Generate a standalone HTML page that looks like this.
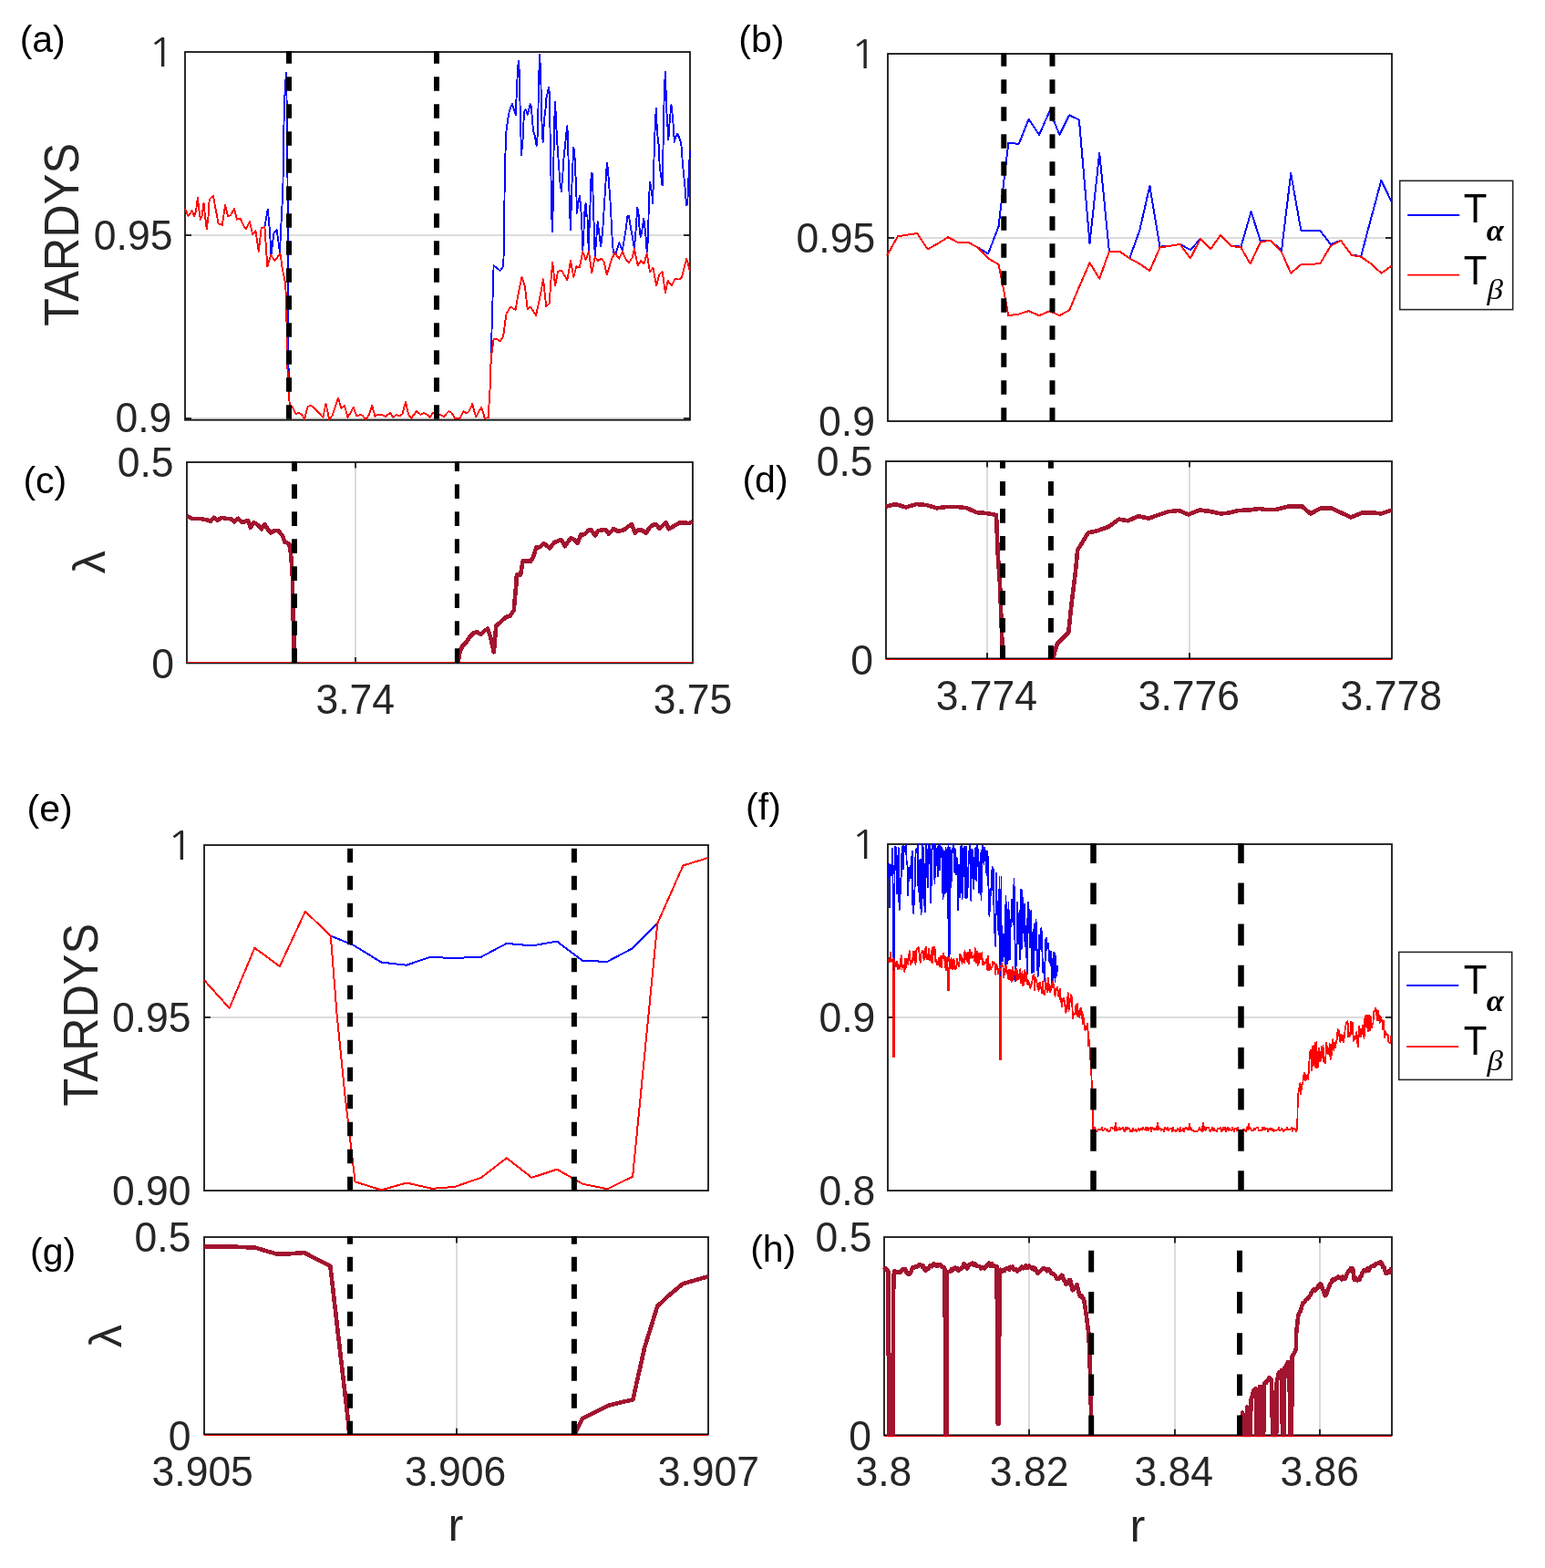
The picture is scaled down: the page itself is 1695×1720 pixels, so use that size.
<!DOCTYPE html>
<html><head><meta charset="utf-8"><title>figure</title>
<style>
html,body{margin:0;padding:0;background:#fff;}
svg{display:block;}
text{font-family:"Liberation Sans", Arial, Helvetica, sans-serif;}
</style></head>
<body>
<svg width="1695" height="1720" viewBox="0 0 1695 1720">
<rect width="1695" height="1720" fill="#fff"/>
<defs><clipPath id="cpa"><rect x="201" y="56" width="558" height="406.7"/></clipPath><clipPath id="cpb"><rect x="972" y="58" width="557" height="406"/></clipPath><clipPath id="cpc"><rect x="203" y="506" width="559" height="223.4"/></clipPath><clipPath id="cpd"><rect x="970" y="505" width="559" height="219.4"/></clipPath><clipPath id="cpe"><rect x="222" y="926" width="557" height="382"/></clipPath><clipPath id="cpf"><rect x="972" y="925" width="557" height="383"/></clipPath><clipPath id="cpg"><rect x="222" y="1356" width="557" height="219.3"/></clipPath><clipPath id="cph"><rect x="968" y="1356" width="561" height="220.3"/></clipPath></defs>
<line x1="203" y1="258" x2="757" y2="258" stroke="#dcdcdc" stroke-width="2"/>
<line x1="203" y1="459" x2="757" y2="459" stroke="#dcdcdc" stroke-width="2"/>
<line x1="974" y1="261" x2="1527" y2="261" stroke="#dcdcdc" stroke-width="2"/>
<line x1="390" y1="507" x2="390" y2="727.4" stroke="#dcdcdc" stroke-width="2"/>
<line x1="1083" y1="506" x2="1083" y2="722.4" stroke="#dcdcdc" stroke-width="2"/>
<line x1="1305" y1="506" x2="1305" y2="722.4" stroke="#dcdcdc" stroke-width="2"/>
<line x1="224" y1="1116" x2="777" y2="1116" stroke="#dcdcdc" stroke-width="2"/>
<line x1="974" y1="1116" x2="1527" y2="1116" stroke="#dcdcdc" stroke-width="2"/>
<line x1="501" y1="1357" x2="501" y2="1573.3" stroke="#dcdcdc" stroke-width="2"/>
<line x1="1129" y1="1357" x2="1129" y2="1574.3" stroke="#dcdcdc" stroke-width="2"/>
<line x1="1289" y1="1357" x2="1289" y2="1574.3" stroke="#dcdcdc" stroke-width="2"/>
<line x1="1448" y1="1357" x2="1448" y2="1574.3" stroke="#dcdcdc" stroke-width="2"/>
<rect x="203" y="57" width="554" height="403.7" fill="none" stroke="#151515" stroke-width="1.8"/>
<rect x="974" y="59" width="553" height="403" fill="none" stroke="#151515" stroke-width="1.8"/>
<rect x="205" y="507" width="555" height="220.4" fill="none" stroke="#151515" stroke-width="1.8"/>
<rect x="972" y="506" width="555" height="216.4" fill="none" stroke="#151515" stroke-width="1.8"/>
<rect x="224" y="927" width="553" height="379" fill="none" stroke="#151515" stroke-width="1.8"/>
<rect x="974" y="926" width="553" height="380" fill="none" stroke="#151515" stroke-width="1.8"/>
<rect x="224" y="1357" width="553" height="216.3" fill="none" stroke="#151515" stroke-width="1.8"/>
<rect x="970" y="1357" width="557" height="217.3" fill="none" stroke="#151515" stroke-width="1.8"/>
<line x1="203" y1="258" x2="210" y2="258" stroke="#151515" stroke-width="1.8"/><line x1="750" y1="258" x2="757" y2="258" stroke="#151515" stroke-width="1.8"/>
<line x1="203" y1="459" x2="210" y2="459" stroke="#151515" stroke-width="1.8"/><line x1="750" y1="459" x2="757" y2="459" stroke="#151515" stroke-width="1.8"/>
<line x1="974" y1="261" x2="981" y2="261" stroke="#151515" stroke-width="1.8"/><line x1="1520" y1="261" x2="1527" y2="261" stroke="#151515" stroke-width="1.8"/>
<line x1="390" y1="727.4" x2="390" y2="720.9" stroke="#151515" stroke-width="1.8"/><line x1="390" y1="507" x2="390" y2="513.5" stroke="#151515" stroke-width="1.8"/>
<line x1="1083" y1="722.4" x2="1083" y2="715.9" stroke="#151515" stroke-width="1.8"/><line x1="1083" y1="506" x2="1083" y2="512.5" stroke="#151515" stroke-width="1.8"/>
<line x1="1305" y1="722.4" x2="1305" y2="715.9" stroke="#151515" stroke-width="1.8"/><line x1="1305" y1="506" x2="1305" y2="512.5" stroke="#151515" stroke-width="1.8"/>
<line x1="224" y1="1116" x2="231" y2="1116" stroke="#151515" stroke-width="1.8"/><line x1="770" y1="1116" x2="777" y2="1116" stroke="#151515" stroke-width="1.8"/>
<line x1="974" y1="1116" x2="981" y2="1116" stroke="#151515" stroke-width="1.8"/><line x1="1520" y1="1116" x2="1527" y2="1116" stroke="#151515" stroke-width="1.8"/>
<line x1="501" y1="1573.3" x2="501" y2="1566.8" stroke="#151515" stroke-width="1.8"/><line x1="501" y1="1357" x2="501" y2="1363.5" stroke="#151515" stroke-width="1.8"/>
<line x1="1129" y1="1574.3" x2="1129" y2="1567.8" stroke="#151515" stroke-width="1.8"/><line x1="1129" y1="1357" x2="1129" y2="1363.5" stroke="#151515" stroke-width="1.8"/>
<line x1="1289" y1="1574.3" x2="1289" y2="1567.8" stroke="#151515" stroke-width="1.8"/><line x1="1289" y1="1357" x2="1289" y2="1363.5" stroke="#151515" stroke-width="1.8"/>
<line x1="1448" y1="1574.3" x2="1448" y2="1567.8" stroke="#151515" stroke-width="1.8"/><line x1="1448" y1="1357" x2="1448" y2="1363.5" stroke="#151515" stroke-width="1.8"/>
<g clip-path="url(#cpa)" shape-rendering="crispEdges"><polyline points="290.4,249 293.7,229.6 295.8,251 297.5,279.1 300.4,256 303.7,252.3 307,276.6 309,233.7 310.3,211.4 310.8,180 311.3,143 312.3,107 313.9,80 314.8,120 315.5,200 316,300 316.5,400 317.3,440" fill="none" stroke="#0000ff" stroke-width="1.9" stroke-linejoin="round" stroke-linecap="butt"/></g>
<g clip-path="url(#cpa)" shape-rendering="crispEdges"><polyline points="537.6,420 538.7,395.8 539.9,347 541,313.3 541.6,291.2 548.6,297 552.1,292.3 552.7,278.4 553.3,234.9 553.8,192.4 555,149.4 555.8,140.7 557,133.1 557.9,126.2 559.1,120.9 560.2,118 562,114 563.7,119.8 565.8,126.2 566.4,110.5 567.2,92.4 568,75.6 569,66.9 570.1,83.7 570.5,113.4 571.3,144.2 572.1,169.8 573.6,152.3 574.2,137.2 575.3,122.1 576.5,119.8 578.8,125.6 581.7,114 582.9,117.4 584.1,133.7 585.2,144.2 587,150 588.7,159.9 589.9,146.5 590.5,117.4 591,87.2 592.2,59.9 593.4,90.1 594,118.6 594.9,146.5 595.7,155.8 596.9,132.6 598.6,118.6 599.2,108.1 600.3,103.5 602.1,95.9 603,104.7 603.5,143 604.4,189.5 605.3,237.2 606,254 606.7,226.7 607.3,183.7 607.9,141.9 609.1,111.6 610.2,137.2 611.4,158.1 612.8,177.9 614.3,198.8 615.8,209.9 617.2,194.2 618.6,172.1 619.8,161.6 620.9,150 622.4,137.8 623.4,168.6 624.2,202.3 625.3,236 626,252.2 627.1,210.5 628.3,183.7 629.1,161.6 630.2,165.1 631.2,187.2 632.3,209.3 632.9,233.7 634.1,224.4 635.8,215.1 637,224.4 638.1,241.9 639.3,274.9 640.6,250 641.7,226.7 642.9,223.3 643.2,237.1 644.4,236 645.7,274.6 647,238.4 647.9,212.8 648.7,189.5 649.9,190.7 650.7,218.6 651.6,245.3 652.7,281 654.2,263.3 655.7,243 657,253.4 659.1,270.4 661.2,253.4 662.7,229.1 663.8,211.6 665,191.9 665.8,179.1 667,184.9 667.9,200 669.1,214 670,229.1 670.8,245.3 671.5,259 672.9,277.4 676.1,276.7 679.3,266.1 682.8,274.6 685.3,259.7 687.1,249.1 688.3,237.2 689.6,237.8 690,237.2 692,250.5 693.8,259.7 695.9,272.5 697.3,256.9 698.1,243.5 699.3,227.9 700.5,233.7 700.9,244.2 702.7,259.7 704.1,254.8 705.1,247 706.3,239.5 707.4,250 708,251.9 709.7,276.7 711.2,259.7 711.5,237.8 712.1,214 713.3,200 715,210.5 716.2,223.3 717,190.7 717.9,160.5 719.1,129.1 720,118.6 720.8,143 722.6,158.7 723.7,182.6 725.5,195.3 726.6,203.5 727.4,167.4 728.1,130.2 729,93 730.1,78.5 730.9,115.1 732.4,137.2 733.4,153.5 734.2,138.4 735.3,126.7 736.5,115.1 737.7,126.7 738.8,138.4 739.8,155.8 741.2,150 743.3,146.5 745.2,151.2 747,155.8 748.1,166.3 748.7,177.9 749.9,189.5 751,200 751.9,209.3 753,225.6 754.2,223.3 755.1,205.8 755.7,188.4 757,165" fill="none" stroke="#0000ff" stroke-width="1.9" stroke-linejoin="round" stroke-linecap="butt"/></g>
<g clip-path="url(#cpa)" shape-rendering="crispEdges"><polyline points="202.9,229.1 206.6,237 210.7,231.2 213.2,237 214.9,232 216.9,216.8 218.2,228.7 219.8,240.7 221.5,237 223.5,222.9 225.2,238.6 226.8,251 228.5,237.8 229.7,218.8 233.9,214.7 239.6,245.3 243.8,246.9 247.1,225 250,237 252.9,236.2 257,229.1 259.9,240.7 263.6,239.5 267.7,248.6 270.2,251 273.9,242.8 277.2,257.6 280.5,253.5 283.8,275.8 286.7,250.2 290.4,249 293.3,292.3 297.1,279.9 301.6,286.1 307.4,277.9 309.9,295.6 313,310 314.1,330 315.2,400 316.7,430 317.8,443.8 320.9,446.9 324.6,454.2 328.2,452.7 331.4,455.3 334,460 337.7,445.9 341.3,444.8 347.1,450 354.4,457.9 357.5,442.7 361.2,460 364.9,455.3 371.1,436.4 374.3,448 377.9,444.8 381.6,457.9 387.9,446.9 391,455.8 396.2,455.3 397.8,455.9 401.1,460.1 404.4,455.9 408.2,445 411.5,456.8 413.9,454.9 419.1,454.9 422.9,456.8 428,453 431.4,457.8 434.7,454.9 438,456.4 441.3,454.5 445,440.8 447.9,454 451.2,458.7 456.9,451.2 461.6,454.9 464.9,453 468.2,454.5 471.5,457.8 474.8,453 479,453.5 483.3,455.4 487.1,456.8 492.3,451.2 495.6,453 498.9,458.7 504.5,458.7 508.3,451.2 512.1,453.5 514.9,450.7 518.2,443.1 522,457.3 528.1,446.9 531.9,458.7 535.7,458.2 536.6,441.7 537.6,425.7 537.6,409.8 539.3,388.8 541.6,372 545.1,372 548.6,374.3 552.1,369.1 554.4,351.6 555.6,344.1 560.2,336.5 565.5,340 568.4,323.7 572.4,304 575.9,314.4 578.8,339.4 581.7,336.5 588.1,345.8 592.8,323.7 596,306.3 599.2,335.9 602.7,333 604.4,307.4 606.2,287.7 609.1,313.3 612,298.1 616,296.4 622.4,307.4 625.9,285.9 629.4,304 632.3,292.3 635.8,293.5 639.3,276 642.5,285.2 646,276 649.2,299.4 652.7,281.7 655.9,285.9 659.8,283.8 662.7,287.3 665.8,301.5 671.2,283.8 674.7,277.4 679.3,283.8 682.8,276 686.7,284.5 689.9,288.1 693.8,282.4 695.9,273.2 699.8,291.6 703,285.9 706.5,289.5 709.7,278.1 712.9,298 716.5,293.7 720,313.5 723.5,300.8 726.7,298 729.9,321.3 732.7,307.9 737,313.5 740.5,306.1 744.8,306.5 747.6,305 753.3,283.8 757,297.5" fill="none" stroke="#ff0000" stroke-width="1.9" stroke-linejoin="round" stroke-linecap="butt"/></g>
<g clip-path="url(#cpb)" shape-rendering="crispEdges"><polyline points="973.3,280 984.9,259.4 994.8,257.7 1006.3,256.1 1017.9,273.4 1029.5,266.8 1040.2,260.2 1050.9,266 1062.5,266 1073.2,271.8 1084,278.4 1095.5,248.7 1101.3,199.1 1106.3,157 1117.8,157.8 1128.6,130.6 1140.1,147.9 1151.7,121.5 1162.4,147.9 1173.2,126.4 1183.9,131.4 1195.5,266.8 1206.2,167.7 1216.9,275.9 1228.5,275.9 1239.2,283.4 1250.3,252.7 1261.4,203.9 1272.5,270.6 1282.8,269.8 1294.7,268 1305.9,274 1317,262.1 1328.1,273.2 1339.2,257.8 1350.4,269.8 1361.5,270.6 1372.6,232.1 1382.9,264.6 1394,263.8 1406,274.9 1416.2,190.2 1427.3,252.7 1438.5,252.7 1448.7,253.5 1459.8,268 1471,263.8 1482.9,280 1493.2,280.9 1504.3,239 1515.4,197.9 1527,222" fill="none" stroke="#0000ff" stroke-width="2.0" stroke-linejoin="round" stroke-linecap="butt"/></g>
<g clip-path="url(#cpb)" shape-rendering="crispEdges"><polyline points="973.3,280 984.9,259.4 994.8,257.7 1006.3,256.1 1017.9,273.4 1029.5,266.8 1040.2,260.2 1050.9,266 1062.5,266 1073.2,271.8 1084,283.4 1095.5,290 1100.5,314.7 1106.3,346.1 1117.8,344.5 1128.6,341.2 1140.1,346.1 1151.7,341.2 1162.4,346.1 1173.2,340.3 1183.9,314.7 1195.5,288.3 1206.2,305.6 1216.9,275.9 1228.5,275.9 1239.2,283.4 1250.3,289.4 1261.4,297.1 1272.5,271.5 1282.8,269.8 1294.7,268 1305.9,283.4 1317,262.1 1328.1,273.2 1339.2,257.8 1350.4,269.8 1361.5,271.5 1371.7,289.4 1382.9,265.5 1394,263.8 1406,276.6 1416.2,299.7 1427.3,290.3 1438.5,290.3 1448.7,288.6 1459.8,269.8 1471,263.8 1482.9,280 1493.2,281.7 1504.3,289.4 1515.4,299.7 1527,291.5" fill="none" stroke="#ff0000" stroke-width="2.0" stroke-linejoin="round" stroke-linecap="butt"/></g>
<g clip-path="url(#cpc)" shape-rendering="crispEdges"><polyline points="205.2,566.2 210.5,568.8 218.8,568.8 227.2,570.4 230.9,572 234.5,567.8 238.7,570.9 242.9,567.8 248.1,568.8 253.9,569.4 257,572.5 261.2,568.8 265.9,573 272.2,570.9 274.8,578.8 278.5,573 283.2,576.2 286.8,580.3 290.5,575.1 294.2,581.4 297.3,584.5 301.5,581.9 305.7,582.4 309.9,587.7 312.5,594.5 317.2,596.6 318.8,605.5 319.8,617 320.9,633.7 321.2,654.6 321.6,675.6 322.4,696.5 322.6,712.2 322.9,726.5" fill="none" stroke="#a2142f" stroke-width="4.6" stroke-linejoin="round" stroke-linecap="butt"/></g>
<g clip-path="url(#cpc)" shape-rendering="crispEdges"><polyline points="502.6,726.5 504.6,714.3 507.8,708 512,704.3 515.1,698.6 520.3,693.9 523.5,693.4 527.7,696 531.9,691.8 535,689.7 538.1,698.6 541.8,715.3 544.4,686 548.6,682.9 554.9,677.1 559.6,675.6 563.8,669.3 565.3,651.5 566.4,641 566.9,630.6 571.1,630.6 573.7,615.4 576.8,615.4 582.1,615.9 585.2,610.7 588.4,600.2 592,600.2 596.7,596 603,601.3 608.2,595 615.6,591.9 619.7,599.2 626,590.5 628.6,590.9 633.7,595.6 637.5,586.2 641.4,586.2 645.7,581.5 648.2,581.1 652.9,587.5 655.9,582.4 661.9,581.1 664.5,581.1 667.9,585.8 673,580.2 678.2,582.8 685,581.1 688.4,578.1 693.1,575.1 696.6,584.5 700,581.5 703.8,581.1 708.5,584.9 713.2,578.1 717.5,575.1 720.1,575.5 723.5,579.8 730.4,573.4 733.8,580.2 739.8,576.8 745.7,573.4 750.9,573.4 756,574.2 760,571.7" fill="none" stroke="#a2142f" stroke-width="4.6" stroke-linejoin="round" stroke-linecap="butt"/></g>
<g clip-path="url(#cpc)" shape-rendering="crispEdges"><polyline points="205,726.6 760,726.6" fill="none" stroke="#ff0000" stroke-width="1.4" stroke-linejoin="round" stroke-linecap="butt"/></g>
<g clip-path="url(#cpd)" shape-rendering="crispEdges"><polyline points="972,555.6 982.3,553.1 993.9,556.4 1005.5,553.1 1016.2,554 1027.8,557.3 1039.3,555.9 1050.1,555.9 1060.8,557.3 1071.5,562.2 1082.3,563 1093,565 1094.7,607.6 1097.1,642.3 1098.8,688.6 1099.6,708.4 1100.1,722.5" fill="none" stroke="#a2142f" stroke-width="4.6" stroke-linejoin="round" stroke-linecap="butt"/></g>
<g clip-path="url(#cpd)" shape-rendering="crispEdges"><polyline points="1155,722.5 1159.9,705.9 1172.3,693.5 1175.6,662.1 1179.7,629.1 1182.2,603.5 1193.8,584.5 1204.5,582 1216.1,577.9 1227.6,569.6 1237.5,571.3 1248.9,566.1 1260.2,568.7 1269.8,565.2 1282,561.2 1293.3,560 1303.7,564.4 1315.9,559.5 1327.2,560.9 1339.4,563.5 1348.1,562.6 1358.6,560 1370.7,559.5 1382.1,557.9 1388.2,559.1 1398.6,559.1 1414.3,555.3 1428.2,555.3 1437.7,563.5 1449.1,557.4 1460.4,557.4 1482.1,567.5 1494.3,562.6 1506.5,562.3 1515.2,563.5 1527,559.5" fill="none" stroke="#a2142f" stroke-width="4.6" stroke-linejoin="round" stroke-linecap="butt"/></g>
<g clip-path="url(#cpd)" shape-rendering="crispEdges"><polyline points="972,723.4 1527,723.4" fill="none" stroke="#ff0000" stroke-width="1.4" stroke-linejoin="round" stroke-linecap="butt"/></g>
<g clip-path="url(#cpe)" shape-rendering="crispEdges"><polyline points="362.8,1026.6 387.8,1036.8 418.4,1055.6 446,1058.7 471.6,1049.9 498.4,1051 527.9,1049.7 555.8,1034.9 583.4,1037.4 611.1,1032.7 639,1053.8 666.2,1054.9 694.1,1040.2 721.3,1012.9" fill="none" stroke="#0000ff" stroke-width="2.0" stroke-linejoin="round" stroke-linecap="butt"/></g>
<g clip-path="url(#cpe)" shape-rendering="crispEdges"><polyline points="224.1,1075.3 251.7,1105.9 279.4,1039.7 306.8,1060.1 334.9,999.8 362.8,1026.6 369.6,1112.7 378.7,1203.4 389.6,1296.3 418.4,1305.4 446,1297.5 473.9,1303.8 498.4,1302 527.9,1291.8 555.8,1270.3 583.4,1291.8 611.1,1282.7 639,1298.6 666.2,1304.3 694.1,1290.7 721.3,1012.9 749.4,949.5 777.2,940.9" fill="none" stroke="#ff0000" stroke-width="2.0" stroke-linejoin="round" stroke-linecap="butt"/></g>
<g clip-path="url(#cpf)" shape-rendering="crispEdges"><polyline points="974.5,945.71 975.25,955.27 976,995.4 976.75,948.4 977.5,952.66 978.25,960.68 979,930.47 979.75,953.59 979.5,964.47 980.2,1092 980.8,1092 981.5,964.47 981.25,981 982,929.18 982.75,939.22 983.5,930.29 984.25,980.51 985,968.97 985.75,930.14 986.5,998 987.25,996.04 988,964.88 988.75,961.4 989.5,931.93 990.25,927.99 991,953.69 991.75,928.1 992.5,932.13 993.25,934.27 994,926.67 994.75,947.73 995.5,945.79 996.25,982.12 997,951.4 997.75,961.7 998.5,949.45 999.25,963.47 1000,945.74 1000.75,933.91 1001.5,1001.21 1002.25,1001.71 1003,983.79 1003.75,969.88 1004.5,936.7 1005.25,931.72 1006,935.26 1006.75,925.18 1007.5,978.54 1008.25,943.48 1009,989.12 1009.75,942.74 1010.5,1003.6 1011.25,988.53 1012,924 1012.75,930.73 1013.5,993.47 1014.25,947.79 1015,1000.05 1015.75,941.68 1016.5,925.16 1017.25,959.82 1018,973.57 1018.75,932.96 1019.5,925.45 1020.25,936.16 1021,990.02 1021.75,968.46 1022.5,926.24 1023.25,931.2 1024,925.71 1024.75,924.73 1025.5,969.56 1026.25,928.08 1027,949.26 1027.75,941.47 1028.5,928.41 1029.25,961.48 1030,926.36 1030.75,954.52 1031.5,926 1032.25,939.83 1033,929.38 1033.75,931.96 1034.5,986.48 1035.25,970.68 1036,933.98 1036.75,979.71 1037.5,929.67 1038.25,939.62 1039,978.42 1039.75,958.8 1040.5,925.81 1040.25,995.02 1040.95,1053 1041.55,1053 1042.25,995.02 1042,930.16 1042.75,932.45 1043.5,973.31 1044.25,936.7 1045,934.86 1045.75,925.18 1046.5,925.65 1047.25,956.98 1048,932.22 1048.75,959.34 1049.5,940.52 1050.25,946.73 1051,998.37 1051.75,948.52 1052.5,955.83 1053.25,984.53 1054,928.95 1054.75,927.71 1055.5,986.39 1056.25,975.92 1057,931.65 1057.75,928.86 1058.5,966.1 1059.25,984.84 1060,928.89 1060.75,985.05 1061.5,978.45 1062.25,953.92 1063,941.11 1063.75,926.28 1064.5,924.97 1065.25,987.79 1066,931.58 1066.75,963.36 1067.5,932.68 1068.25,974.7 1069,954.86 1069.75,934.85 1070.5,929.6 1071.25,965.88 1072,926.54 1072.75,932.16 1073.5,952.92 1074.25,979.23 1075,957.64 1075.75,935.5 1076.5,987.53 1077.25,932.84 1078,927.9 1078.75,936.89 1079.5,948.13 1080.25,929.95 1081,934.04 1081.75,944.58 1082.5,959.97 1083.25,933.77 1084,945.69 1084.75,992.45 1085.5,1005.23 1086.25,975.27 1087,982.07 1087.75,976.03 1088.5,951.31 1089.25,951.9 1090,955.12 1090.75,1023.28 1091.5,1002.8 1092.25,1037.78 1093,957.33 1093.75,1003.15 1094.5,988.57 1095.25,1020.01 1096,976.15 1096.75,1068.46 1096.5,961.88 1097.2,1075 1097.8,1075 1098.5,961.88 1098.25,1002.28 1099,1028.47 1099.75,1054.53 1100.5,1029.2 1101.25,1024.66 1102,1038.48 1102.75,1058.73 1103.5,982.76 1104.25,1023.37 1105,1057.61 1105.75,1052.79 1106.5,990.01 1107.25,1040.04 1108,1052.06 1108.75,1008.79 1109.5,1015.9 1110.25,986.6 1111,1010.38 1111.75,1014 1112.5,964.03 1113.25,1018.46 1114,1076.47 1114.75,1056.45 1115.5,1032.35 1116.25,989.85 1117,1034.92 1117.75,1014.55 1118.5,999.32 1119.25,1052.53 1120,975.5 1120.75,1040.84 1121.5,977.32 1122.25,1023.33 1123,1011.15 1123.75,991.44 1124.5,1037.93 1125.25,1016.32 1126,1029.4 1126.75,1068.53 1127.5,999.05 1128.25,989.94 1129,1004.04 1129.75,1039.33 1130.5,999.99 1131.25,999.38 1132,1067.62 1132.75,1039.51 1133.5,1020.02 1134.25,1066.41 1135,1013.37 1135.75,1042.51 1136.5,1008.81 1137.25,1024.21 1138,1058.69 1138.75,1070.74 1139.5,1067.38 1140.25,1025.71 1141,1041.03 1141.75,1024.2 1142.5,1017.72 1143.25,1037.57 1144,1065.55 1144.75,1067.03 1145.5,1056.01 1146.25,1076.85 1147,1031.38 1147.75,1028.77 1148.5,1042.31 1149.25,1035.27 1150,1034.41 1150.75,1044.02 1151.5,1056.55 1152.25,1050.48 1153,1044.08 1153.75,1072.13 1154.5,1082 1155.25,1053.6 1156,1044.27 1156.75,1045.49 1157.5,1076.81 1158.25,1048.97 1159,1070.05 1159.75,1065.4 1160.5,1058.6" fill="none" stroke="#0000ff" stroke-width="1.8" stroke-linejoin="round" stroke-linecap="butt"/></g>
<g clip-path="url(#cpf)" shape-rendering="crispEdges"><polyline points="974.5,1052.3 975.25,1054.43 976,1055.44 976.75,1044.73 977.5,1054.07 978.25,1052.62 979,1055.59 979.75,1050.53 979.5,1052.88 980.2,1159 980.8,1159 981.5,1052.88 981.25,1057.9 982,1056.05 982.75,1060.51 983.5,1054.63 984.25,1054.48 985,1063.4 985.75,1058.2 986.5,1059.23 987.25,1062.93 988,1055.09 988.75,1048.01 989.5,1063.17 990.25,1058.45 991,1059.76 991.75,1058.63 992.5,1066.56 993.25,1051.96 994,1061.08 994.75,1051.45 995.5,1056.04 996.25,1057.89 997,1049.17 997.75,1043.23 998.5,1052.46 999.25,1058.22 1000,1054.77 1000.75,1050.89 1001.5,1055.42 1002.25,1043.79 1003,1043.46 1003.75,1046.72 1004.5,1058.31 1005.25,1043.11 1006,1040.92 1006.75,1040.31 1007.5,1038.66 1008.25,1043.96 1009,1050.59 1009.75,1055.99 1010.5,1044.49 1011.25,1045.19 1012,1043.2 1012.75,1043.4 1013.5,1053.45 1014.25,1048.27 1015,1041.93 1015.75,1038.64 1016.5,1052.34 1017.25,1050.49 1018,1052.61 1018.75,1040.77 1019.5,1046.52 1020.25,1053.58 1021,1047.72 1021.75,1054.83 1022.5,1040.22 1023.25,1056.14 1024,1038.68 1024.75,1046.01 1025.5,1038.66 1026.25,1054.39 1027,1052.34 1027.75,1058.36 1028.5,1055.38 1029.25,1058.61 1030,1050.77 1030.75,1060.22 1031.5,1055.96 1032.25,1048.57 1033,1061.3 1033.75,1050.26 1034.5,1047.29 1035.25,1045.64 1036,1053.56 1036.75,1049.07 1037.5,1063.27 1038.25,1064.04 1039,1051.13 1039.75,1049.67 1039.5,1057.38 1040.2,1086 1040.8,1086 1041.5,1057.38 1041.25,1050.51 1042,1057.22 1042.75,1062.15 1043.5,1051.16 1044.25,1054.18 1045,1063.52 1045.75,1054.15 1046.5,1051.81 1047.25,1063.02 1048,1061.25 1048.75,1062.87 1049.5,1058.24 1050.25,1051.96 1051,1057.67 1051.75,1060.15 1052.5,1055.68 1053.25,1046.96 1054,1047.82 1054.75,1049.81 1055.5,1056.63 1056.25,1051.99 1057,1051.46 1057.75,1056.3 1058.5,1042.47 1059.25,1051.78 1060,1045.99 1060.75,1050.15 1061.5,1055.29 1062.25,1044.58 1063,1057.7 1063.75,1041.47 1064.5,1050.62 1065.25,1050.32 1066,1044.51 1066.75,1050.85 1067.5,1049.18 1068.25,1048.83 1069,1054.22 1069.75,1040.08 1070.5,1047.79 1071.25,1056.34 1072,1043.84 1072.75,1058.72 1073.5,1045.82 1074.25,1055.75 1075,1045.96 1075.75,1051.86 1076.5,1051.7 1077.25,1045.26 1078,1057.99 1078.75,1053.98 1079.5,1058.53 1080.25,1055.88 1081,1056.51 1081.75,1056.21 1082.5,1052.06 1083.25,1064.02 1084,1048.66 1084.75,1064.07 1085.5,1064.07 1086.25,1057.46 1087,1062.95 1087.75,1061.3 1088.5,1060.32 1089.25,1054.92 1090,1055.75 1090.75,1056.77 1091.5,1056.38 1092.25,1068.84 1093,1058.05 1093.75,1059.37 1094.5,1060.44 1095.25,1068.28 1096,1062.49 1096.75,1064.39 1096.5,1059.29 1097.2,1162 1097.8,1162 1098.5,1059.29 1098.25,1060.18 1099,1057.08 1099.75,1059.97 1100.5,1061.2 1101.25,1072.59 1102,1066.25 1102.75,1059.17 1103.5,1066.03 1104.25,1059.95 1105,1068.47 1105.75,1066.45 1106.5,1074.35 1107.25,1063.64 1108,1074.69 1108.75,1063.99 1109.5,1077.54 1110.25,1071.47 1111,1060.97 1111.75,1074.88 1112.5,1065.46 1113.25,1067.17 1114,1063.44 1114.75,1076.02 1115.5,1062.73 1116.25,1074.54 1117,1068.52 1117.75,1073.78 1118.5,1066.98 1119.25,1063.26 1120,1078.47 1120.75,1074.26 1121.5,1065.63 1122.25,1081.34 1123,1080.68 1123.75,1066.75 1124.5,1063.74 1125.25,1076.18 1126,1066.72 1126.75,1079.67 1127.5,1074.45 1128.25,1080.16 1129,1077.52 1129.75,1082.55 1130.5,1084.02 1131.25,1079.27 1132,1079.25 1132.75,1073.62 1133.5,1069.69 1134.25,1069.13 1135,1085.92 1135.75,1072.26 1136.5,1077.23 1137.25,1075.22 1138,1081.76 1138.75,1080.24 1139.5,1087.06 1140.25,1078.77 1141,1077.44 1141.75,1083.37 1142.5,1085.4 1143.25,1089.16 1144,1077.04 1144.75,1088.68 1145.5,1090.73 1146.25,1090.9 1147,1073.98 1147.75,1079.15 1148.5,1087.18 1149.25,1088.47 1150,1072.79 1150.75,1080.35 1151.5,1087.38 1152.25,1088.52 1153,1084.5 1153.75,1078.46 1154.5,1082.84 1155.25,1076.32 1156,1081.91 1156.75,1084.6 1157.5,1092.96 1158.25,1088.74 1159,1085.69 1159.75,1082.77 1160.5,1084.87 1161.25,1093 1162,1089.27 1162.75,1084.4 1163.5,1099.09 1164.25,1094.74 1165,1104.29 1165.75,1095.57 1166.5,1098.36 1167.25,1094.53 1168,1099.64 1168.75,1108.22 1169.5,1110.82 1170.25,1103.35 1171,1097.9 1171.75,1089.01 1172.5,1109.43 1173.25,1098.52 1174,1098.84 1174.75,1091.23 1175.5,1091.55 1176.25,1101.51 1177,1117.17 1177.75,1112.36 1178.5,1112.62 1179.25,1112.66 1180,1103.82 1180.75,1102.12 1181.5,1113.86 1182.25,1101.29 1183,1115.3 1183.75,1114.36 1184.5,1115.96 1185.25,1106.38 1186,1106.09 1186.75,1117.28 1187.5,1110.14 1188.25,1123.59 1189,1116.34 1189.75,1125.17 1190.5,1130.07 1191.25,1128.53 1192,1128.76 1192.75,1122.91 1193.5,1128.57 1194.25,1147.01 1195,1141.1 1195.75,1151.05 1196.5,1164.25 1197.25,1175.81 1198,1193.72 1198.75,1222.6 1199.2,1238 1200,1239.91 1201,1236.96 1202,1239.59 1203,1240.71 1204,1240.67 1205,1239.08 1206,1239.66 1207,1238.35 1208,1239.14 1209,1237.04 1210,1239.91 1211,1239.5 1212,1237.91 1213,1238.39 1214,1240.18 1215,1238.72 1216,1241.3 1217,1241.36 1218,1240.69 1219,1236.96 1220,1236.88 1221,1237.94 1222,1238.31 1223,1240.02 1223,1240.63 1223.7,1232 1224.3,1232 1225,1240.63 1225,1239.31 1226,1239.7 1227,1239.37 1228,1236.67 1229,1239.13 1230,1237.57 1231,1238.58 1232,1236.54 1233,1239.78 1234,1241.05 1235,1236.84 1236,1239.4 1237,1236.62 1238,1238.26 1239,1237.3 1240,1240.8 1241,1240.14 1242,1240.98 1243,1237.59 1244,1240.09 1245,1240 1246,1239.05 1247,1241.08 1248,1239.62 1249,1237.91 1250,1240.09 1251,1238.91 1252,1237.57 1253,1239.59 1254,1236.74 1255,1238.75 1256,1239.28 1257,1236.51 1258,1239.74 1259,1236.94 1260,1239.75 1261,1238.21 1262,1236.65 1263,1241.5 1264,1236.82 1265,1237.28 1266,1239.03 1267,1237.73 1268,1239.15 1269,1238.87 1269,1239.38 1269.7,1232 1270.3,1232 1271,1239.38 1271,1239.22 1272,1237.97 1273,1237.56 1274,1239.97 1275,1238.64 1276,1239.1 1277,1241.08 1278,1236.54 1279,1237.89 1280,1239.32 1281,1236.77 1282,1240.27 1283,1238.51 1284,1238.08 1285,1237.47 1286,1241.33 1287,1236.73 1288,1240.61 1289,1240.02 1290,1240.99 1291,1240.01 1292,1238.23 1293,1239.25 1294,1241.11 1295,1236.7 1296,1240.75 1297,1239.87 1298,1237.48 1299,1241.33 1300,1238 1301,1236.52 1302,1237.84 1303,1239.08 1304,1236.64 1304,1239.46 1304.7,1233 1305.3,1233 1306,1239.46 1306,1238.72 1307,1238.16 1308,1240.28 1309,1239.59 1310,1241.33 1311,1240.85 1312,1240.8 1313,1241.17 1314,1240.75 1315,1238.93 1316,1236.84 1317,1238.74 1318,1239.6 1319,1241.35 1319,1239.77 1319.7,1232 1320.3,1232 1321,1239.77 1321,1239.37 1322,1236.93 1323,1239.75 1324,1236.69 1325,1237.22 1326,1236.72 1327,1240.16 1328,1241.21 1329,1239.47 1330,1236.94 1331,1240.2 1332,1237.37 1333,1240.05 1334,1239.88 1335,1241.22 1336,1237.33 1337,1237.67 1338,1238.1 1339,1236.88 1340,1241.23 1341,1239.61 1342,1237.03 1343,1238.89 1344,1236.99 1345,1241.32 1346,1238.3 1347,1236.51 1348,1240.2 1349,1238.15 1350,1239.75 1351,1240.41 1352,1236.87 1353,1239.23 1354,1241.25 1355,1237.64 1356,1237.75 1357,1239.87 1358,1236.79 1359,1240.6 1360,1240.51 1361,1241.23 1362,1240.67 1363,1239.4 1364,1238.8 1365,1239.18 1366,1239.68 1367,1241.38 1368,1237.26 1369,1238.97 1369,1238.75 1369.7,1233 1370.3,1233 1371,1238.75 1371,1237.73 1372,1237.32 1373,1240.42 1374,1239.42 1375,1239.95 1376,1237.79 1377,1238.9 1378,1237.3 1379,1237.26 1380,1237.17 1381,1239.74 1382,1240.74 1383,1239.36 1384,1240.4 1385,1236.89 1386,1239.09 1387,1237.2 1388,1239.12 1389,1237.74 1390,1237.77 1391,1241.09 1392,1239.24 1393,1237.72 1394,1238.95 1395,1237.92 1396,1240.47 1397,1238.49 1398,1240.71 1399,1239.47 1400,1239.76 1401,1239.54 1402,1239.43 1403,1236.81 1404,1240.45 1405,1239.57 1406,1237.62 1407,1238.98 1408,1241.26 1409,1239.77 1410,1239.26 1411,1239.15 1412,1236.85 1413,1238.98 1414,1238.66 1415,1239.71 1416,1238.31 1417,1237.22 1418,1240.75 1419,1237.74 1420,1237.63 1421,1238.68 1422,1241.22 1423.2,1239 1423.8,1204 1424.5,1198.85 1425.4,1192.81 1426.3,1187.9 1427.2,1200.16 1428.1,1189.96 1429,1189.75 1429.9,1183.27 1430.8,1176.67 1431.7,1185.23 1432.6,1178.98 1433.5,1184.21 1434.4,1178.78 1435.3,1183.83 1436.2,1167.41 1437.1,1154.29 1438,1151.8 1438.9,1174.19 1439.8,1148.04 1440.7,1168.8 1441.6,1166.55 1442.5,1143.6 1443.4,1171.13 1444.3,1143.32 1445.2,1171.69 1446.1,1169.61 1447,1149.89 1447.9,1164.01 1448.8,1163.18 1449.7,1147.81 1450.6,1160.19 1451.5,1147.13 1452.4,1165.24 1453.3,1159.65 1454.2,1166.26 1455.1,1143.74 1456,1149.69 1456.9,1156.66 1457.8,1156.04 1458.7,1145.15 1459.6,1162.32 1460.5,1160.41 1461.4,1145.44 1462.3,1140.2 1463.2,1151.89 1464.1,1144.03 1465,1149.08 1465.9,1143.48 1466.8,1139.67 1467.7,1128.99 1468.6,1130.47 1469.5,1137.21 1470.4,1142.84 1471.3,1134.57 1472.2,1141.58 1473.1,1135.82 1474,1143.15 1474.9,1136.98 1475.8,1128.43 1476.7,1123.5 1477.6,1121.17 1478.5,1119.94 1479.4,1137.55 1480.3,1137.51 1481.2,1135.49 1482.1,1121.01 1483,1134.72 1483.9,1121.99 1484.8,1141.93 1485.7,1136.55 1486.6,1139.77 1487.5,1136.55 1488.4,1131.7 1489.3,1144.84 1490.2,1148.55 1491.1,1125.6 1492,1130.12 1492.9,1137.65 1493.8,1134.7 1494.7,1125.27 1495.6,1125.1 1496.5,1139.28 1497.4,1117.18 1498.3,1113.9 1499.2,1126.78 1500.1,1113.28 1501,1131.03 1501.9,1114.15 1502.8,1130.15 1503.7,1114.99 1504.6,1127.48 1505.5,1123.4 1506.4,1122.28 1507.3,1109.86 1508.2,1108.58 1509.1,1105.65 1510,1108.61 1510.9,1119.68 1511.8,1108.99 1512.7,1113.79 1513.6,1121.74 1514.5,1114.85 1515.4,1119.68 1516.3,1119.02 1517.2,1129.32 1518.1,1119.52 1519,1138.45 1519.9,1131.82 1520.8,1135.5 1521.7,1134.08 1522.6,1134.79 1523.5,1143.56 1524.4,1143.57 1525.3,1143.84 1526.2,1136.28" fill="none" stroke="#ff0000" stroke-width="1.8" stroke-linejoin="round" stroke-linecap="butt"/></g>
<g clip-path="url(#cpg)" shape-rendering="crispEdges"><polyline points="224,1367.4 252.1,1367.4 268.1,1368.1 280.2,1368.7 302.9,1375.4 316.3,1375.4 333.7,1374.1 362.4,1388.8 372.5,1477.1 381.8,1557.3 383.2,1573.5" fill="none" stroke="#a2142f" stroke-width="4.6" stroke-linejoin="round" stroke-linecap="butt"/></g>
<g clip-path="url(#cpg)" shape-rendering="crispEdges"><polyline points="630.2,1573.5 638.9,1556 667,1541.9 694.4,1535.2 707.1,1478.4 721.2,1432.9 733.9,1420.9 749.2,1408.2 777,1400.2" fill="none" stroke="#a2142f" stroke-width="4.6" stroke-linejoin="round" stroke-linecap="butt"/></g>
<g clip-path="url(#cpg)" shape-rendering="crispEdges"><polyline points="224,1574.5 777,1574.5" fill="none" stroke="#ff0000" stroke-width="1.4" stroke-linejoin="round" stroke-linecap="butt"/></g>
<g clip-path="url(#cph)" shape-rendering="crispEdges"><polyline points="970,1389.8 971.2,1391.44 972.4,1392.3 974.3,1394 975.3,1574.5 976.63,1575.27 977.97,1575.44 979.3,1574.5 980.3,1400 981.5,1394 983.15,1396.22 984.8,1395.6 986.2,1395.83 987.6,1395.88 989,1394 990.37,1391.93 991.73,1392.76 993.1,1392.3 994.47,1395.65 995.83,1396.64 997.2,1398.1 998.85,1396.48 1000.5,1392.3 1001.66,1390.4 1002.82,1390.88 1003.98,1389.51 1005.14,1389.8 1006.3,1389 1007.4,1389.1 1008.5,1387.18 1009.6,1387.69 1010.7,1387.76 1011.8,1389.67 1012.9,1388.2 1014.15,1391.95 1015.4,1394 1016.77,1391.51 1018.13,1392.15 1019.5,1389.8 1020.82,1388.14 1022.14,1389.18 1023.46,1387.11 1024.78,1386.21 1026.1,1387.3 1027.2,1388.79 1028.3,1386.97 1029.4,1388.2 1030.65,1386.84 1031.9,1387.3 1033.55,1390.09 1035.2,1389.8 1036.6,1392 1037.3,1574.5 1038.6,1574.5 1039.2,1396 1041,1394.8 1042.32,1395.15 1043.64,1392.45 1044.96,1393.76 1046.28,1391.57 1047.6,1390.6 1048.82,1391.79 1050.05,1390.91 1051.28,1393.89 1052.5,1393.1 1053.75,1392.06 1055,1391.29 1056.25,1389.41 1057.5,1386.5 1059.15,1388.36 1060.8,1391.5 1062.05,1389.81 1063.3,1387.93 1064.55,1386.62 1065.8,1386.5 1066.9,1385.53 1068,1386.7 1069.1,1388.08 1070.2,1386.58 1071.3,1389.15 1072.4,1389 1073.63,1388.9 1074.87,1389.23 1076.1,1391.27 1077.33,1390.61 1078.57,1390.49 1079.8,1391.5 1081.17,1389.77 1082.53,1388.82 1083.9,1386.5 1085.22,1385.42 1086.54,1388.7 1087.86,1385.99 1089.18,1388.66 1090.5,1388.2 1092.05,1389.7 1093.6,1389 1094.6,1561.7 1095.6,1561.7 1096.7,1394.4 1097.8,1392.74 1098.9,1395.08 1100,1393.61 1101.1,1394.17 1102.2,1393.8 1103.43,1391.61 1104.66,1391.12 1105.89,1390.94 1107.11,1392.8 1108.34,1389.76 1109.57,1390.93 1110.8,1389.5 1111.9,1391.85 1113,1392.87 1114.1,1391.94 1115.2,1392.96 1116.3,1394.4 1117.5,1393.28 1118.7,1392.88 1119.9,1390.8 1121.04,1389.36 1122.19,1391.22 1123.33,1391.19 1124.47,1391.21 1125.61,1388.39 1126.76,1391.11 1127.9,1389.5 1129.03,1388.46 1130.16,1389.53 1131.29,1390.67 1132.41,1391.92 1133.54,1390.35 1134.67,1392.49 1135.8,1391.4 1137.3,1394.29 1138.8,1396.9 1140.03,1395.38 1141.27,1394.48 1142.5,1393.12 1143.73,1391.88 1144.97,1391.19 1146.2,1391.4 1147.42,1392.61 1148.64,1394.19 1149.86,1392.12 1151.08,1392.36 1152.3,1394.4 1153.51,1397.19 1154.73,1396.96 1155.94,1397.78 1157.16,1398.47 1158.37,1400.84 1159.59,1402.82 1160.8,1403 1162.03,1401.93 1163.25,1400.9 1164.47,1398.8 1165.7,1399.3 1166.93,1403.9 1168.17,1404.34 1169.4,1409.1 1170.6,1407.85 1171.8,1407.73 1173,1404.24 1174.2,1404.2 1176.7,1415.2 1177.92,1414.42 1179.15,1413.59 1180.38,1411.04 1181.6,1409.1 1184,1420.1 1185.22,1422.22 1186.45,1421.24 1187.68,1423.49 1188.9,1424.9 1190.7,1434.7 1192.6,1449.4 1194.4,1462.8 1195.6,1492.1 1196.8,1540.9 1197.4,1574.5" fill="none" stroke="#a2142f" stroke-width="4.6" stroke-linejoin="round" stroke-linecap="butt"/></g>
<g clip-path="url(#cph)" shape-rendering="crispEdges"><polyline points="1360,1574.5 1363.2,1549.5 1364.3,1574.5 1365.55,1575.44 1366.8,1574.5 1368.1,1543.4 1369.2,1574.5 1370.5,1575.53 1371.8,1574.5 1372.4,1536.1 1375.4,1525.7 1377.6,1523 1378.6,1574.5 1380.1,1574.45 1381.6,1574.5 1382.2,1521 1383.2,1574.5 1384.7,1573.74 1386.2,1574.5 1386.6,1520 1387.78,1516.6 1388.96,1516.92 1390.14,1514.5 1391.32,1513.63 1392.5,1511 1393.75,1512.09 1395,1514 1396.2,1574.5 1397.53,1575.36 1398.87,1573.77 1400.2,1574.5 1400.8,1516 1402.9,1505.5 1404.45,1505.22 1406,1503 1407,1574.5 1408.8,1574.5 1409.3,1500 1410.63,1498.7 1411.97,1495.66 1413.3,1493.9 1414.6,1494 1415.1,1574.5 1417,1574.5 1417.6,1488 1418.2,1487.2 1419.4,1484.89 1420.6,1482.92 1421.8,1479.9 1421.8,1465.2 1424.3,1443.3 1425.5,1439.87 1426.7,1438.4 1429.1,1429.8 1430.32,1428.77 1431.55,1428.38 1432.78,1425.45 1434,1425 1435.22,1424.12 1436.45,1421.89 1437.68,1420.55 1438.9,1417.6 1440.12,1416.17 1441.35,1414.5 1442.58,1415.86 1443.8,1414 1444.9,1413.88 1446,1411.62 1447.1,1409.4 1448.2,1408.63 1449.3,1408.5 1450.73,1413.2 1452.17,1416.37 1453.6,1421.3 1455.1,1419.69 1456.6,1415.2 1457.82,1412.73 1459.05,1408.74 1460.28,1407.45 1461.5,1404.2 1462.62,1403.14 1463.73,1404.35 1464.85,1403.66 1465.97,1401.78 1467.08,1401.58 1468.2,1400.5 1469.42,1401.55 1470.63,1402.31 1471.85,1403.27 1473.07,1400.66 1474.28,1402.14 1475.5,1403 1476.73,1400.46 1477.97,1396.64 1479.2,1394.4 1480.42,1393.94 1481.65,1391.59 1482.88,1393.37 1484.1,1391.4 1485.9,1404.2 1487,1404.16 1488.1,1402.73 1489.2,1404.36 1490.3,1403.12 1491.4,1403.6 1492.5,1400.55 1493.6,1399.39 1494.7,1396.2 1495.8,1394.35 1496.9,1393.2 1498,1394.25 1499.1,1393.59 1500.2,1391.28 1501.3,1393.61 1502.4,1392.6 1503.63,1389.62 1504.87,1389.2 1506.1,1388.3 1507.32,1388.99 1508.55,1387.48 1509.78,1385.88 1511,1385.9 1512.2,1385.36 1513.4,1385.25 1514.6,1384.26 1515.8,1385.3 1517.03,1389.8 1518.25,1389.67 1519.47,1393.75 1520.7,1396.9 1521.96,1396.71 1523.22,1394.61 1524.48,1395.5 1525.74,1392.16 1527,1392" fill="none" stroke="#a2142f" stroke-width="4.6" stroke-linejoin="round" stroke-linecap="butt"/></g>
<g clip-path="url(#cph)" shape-rendering="crispEdges"><polyline points="970,1575.4 1527,1575.4" fill="none" stroke="#ff0000" stroke-width="1.4" stroke-linejoin="round" stroke-linecap="butt"/></g>
<g clip-path="url(#cpa)"><line x1="317" y1="54.3" x2="317" y2="461" stroke="#000" stroke-width="6" stroke-dasharray="15.5 14.5"/></g>
<g clip-path="url(#cpa)"><line x1="479" y1="54.3" x2="479" y2="461" stroke="#000" stroke-width="6" stroke-dasharray="15.5 14.5"/></g>
<g clip-path="url(#cpb)"><line x1="1101.3" y1="57.3" x2="1101.3" y2="462" stroke="#000" stroke-width="6" stroke-dasharray="15.5 14.5"/></g>
<g clip-path="url(#cpb)"><line x1="1154.5" y1="57.3" x2="1154.5" y2="462" stroke="#000" stroke-width="6" stroke-dasharray="15.5 14.5"/></g>
<g clip-path="url(#cpc)"><line x1="323" y1="501.3" x2="323" y2="727" stroke="#000" stroke-width="6" stroke-dasharray="15.7 14.3"/></g>
<g clip-path="url(#cpc)"><line x1="501.4" y1="501.3" x2="501.4" y2="727" stroke="#000" stroke-width="5" stroke-dasharray="15.7 14.3"/></g>
<g clip-path="url(#cpd)"><line x1="1100" y1="498.1" x2="1100" y2="723" stroke="#000" stroke-width="6" stroke-dasharray="15.7 14.3"/></g>
<g clip-path="url(#cpd)"><line x1="1152.9" y1="498.1" x2="1152.9" y2="723" stroke="#000" stroke-width="6" stroke-dasharray="15.7 14.3"/></g>
<g clip-path="url(#cpe)"><line x1="384.1" y1="900.8" x2="384.1" y2="1306" stroke="#000" stroke-width="6" stroke-dasharray="15.5 14.5"/></g>
<g clip-path="url(#cpe)"><line x1="629.9" y1="900.8" x2="629.9" y2="1306" stroke="#000" stroke-width="6" stroke-dasharray="15.5 14.5"/></g>
<g clip-path="url(#cpf)"><line x1="1199.5" y1="923.4" x2="1199.5" y2="1306" stroke="#000" stroke-width="6.5" stroke-dasharray="23.6 21.5"/></g>
<g clip-path="url(#cpf)"><line x1="1361.5" y1="923.4" x2="1361.5" y2="1306" stroke="#000" stroke-width="6.5" stroke-dasharray="23.6 21.5"/></g>
<g clip-path="url(#cpg)"><line x1="384" y1="1348.8" x2="384" y2="1574" stroke="#000" stroke-width="6" stroke-dasharray="16 14"/></g>
<g clip-path="url(#cpg)"><line x1="629.9" y1="1348.8" x2="629.9" y2="1574" stroke="#000" stroke-width="6" stroke-dasharray="16 14"/></g>
<g clip-path="url(#cph)"><line x1="1197.2" y1="1326.6" x2="1197.2" y2="1575" stroke="#000" stroke-width="6" stroke-dasharray="23.7 21.5"/></g>
<g clip-path="url(#cph)"><line x1="1360" y1="1326.6" x2="1360" y2="1575" stroke="#000" stroke-width="6" stroke-dasharray="23.7 21.5"/></g>
<rect x="1535.7" y="198.3" width="124" height="141.3" fill="#fff" stroke="#262626" stroke-width="1.6"/>
<line x1="1544.2" y1="236" x2="1601.2" y2="236" stroke="#0000ff" stroke-width="1.8"/>
<line x1="1544.2" y1="301.7" x2="1601.2" y2="301.7" stroke="#ff0000" stroke-width="1.8"/>
<rect x="1534.7" y="1044.4" width="124" height="140" fill="#fff" stroke="#262626" stroke-width="1.6"/>
<line x1="1543.2" y1="1081" x2="1600.2" y2="1081" stroke="#0000ff" stroke-width="1.8"/>
<line x1="1543.2" y1="1148.1" x2="1600.2" y2="1148.1" stroke="#ff0000" stroke-width="1.8"/>
<text x="0" y="0" font-size="44.5" fill="#262626" text-anchor="middle" transform="translate(177.05 72.95) scale(1.1 0.97)" style="font-family:NanumGothic, 'Liberation Sans', sans-serif;">1</text>
<text x="0" y="0" font-size="44.5" fill="#262626" text-anchor="middle" transform="translate(146.1 274) scale(1 1.06)">0.95</text>
<text x="0" y="0" font-size="44.5" fill="#262626" text-anchor="middle" transform="translate(157.35 474.3) scale(1 1.06)">0.9</text>
<text x="0" y="0" font-size="44.5" fill="#262626" text-anchor="middle" transform="translate(947.6 75.05) scale(1.1 0.97)" style="font-family:NanumGothic, 'Liberation Sans', sans-serif;">1</text>
<text x="0" y="0" font-size="44.5" fill="#262626" text-anchor="middle" transform="translate(916.85 277.25) scale(1 1.06)">0.95</text>
<text x="0" y="0" font-size="44.5" fill="#262626" text-anchor="middle" transform="translate(929 477.7) scale(1 1.06)">0.9</text>
<text x="0" y="0" font-size="44.5" fill="#262626" text-anchor="middle" transform="translate(159.6 522.65) scale(1 1.06)">0.5</text>
<text x="0" y="0" font-size="44.5" fill="#262626" text-anchor="middle" transform="translate(178.65 744.1) scale(1 1.06)">0</text>
<text x="0" y="0" font-size="44.5" fill="#262626" text-anchor="middle" transform="translate(389.8 783) scale(1 1.06)">3.74</text>
<text x="0" y="0" font-size="44.5" fill="#262626" text-anchor="middle" transform="translate(760 783) scale(1 1.06)">3.75</text>
<text x="0" y="0" font-size="44.5" fill="#262626" text-anchor="middle" transform="translate(926.65 522.3) scale(1 1.06)">0.5</text>
<text x="0" y="0" font-size="44.5" fill="#262626" text-anchor="middle" transform="translate(945.6 739.85) scale(1 1.06)">0</text>
<text x="0" y="0" font-size="44.5" fill="#262626" text-anchor="middle" transform="translate(1082.4 779.1) scale(1 1.06)">3.774</text>
<text x="0" y="0" font-size="44.5" fill="#262626" text-anchor="middle" transform="translate(1304.35 779.1) scale(1 1.06)">3.776</text>
<text x="0" y="0" font-size="44.5" fill="#262626" text-anchor="middle" transform="translate(1526.25 779.1) scale(1 1.06)">3.778</text>
<text x="0" y="0" font-size="44.5" fill="#262626" text-anchor="middle" transform="translate(197.7 943.35) scale(1.1 0.97)" style="font-family:NanumGothic, 'Liberation Sans', sans-serif;">1</text>
<text x="0" y="0" font-size="44.5" fill="#262626" text-anchor="middle" transform="translate(166.25 1131.8) scale(1 1.06)">0.95</text>
<text x="0" y="0" font-size="44.5" fill="#262626" text-anchor="middle" transform="translate(166.25 1321.85) scale(1 1.06)">0.90</text>
<text x="0" y="0" font-size="44.5" fill="#262626" text-anchor="middle" transform="translate(948.05 942.35) scale(1.1 0.97)" style="font-family:NanumGothic, 'Liberation Sans', sans-serif;">1</text>
<text x="0" y="0" font-size="44.5" fill="#262626" text-anchor="middle" transform="translate(929.4 1131.85) scale(1 1.06)">0.9</text>
<text x="0" y="0" font-size="44.5" fill="#262626" text-anchor="middle" transform="translate(929.4 1322) scale(1 1.06)">0.8</text>
<text x="0" y="0" font-size="44.5" fill="#262626" text-anchor="middle" transform="translate(178.5 1372.9) scale(1 1.06)">0.5</text>
<text x="0" y="0" font-size="44.5" fill="#262626" text-anchor="middle" transform="translate(197.15 1590.5) scale(1 1.06)">0</text>
<text x="0" y="0" font-size="44.5" fill="#262626" text-anchor="middle" transform="translate(222.2 1630.15) scale(1 1.06)">3.905</text>
<text x="0" y="0" font-size="44.5" fill="#262626" text-anchor="middle" transform="translate(499.55 1630.15) scale(1 1.06)">3.906</text>
<text x="0" y="0" font-size="44.5" fill="#262626" text-anchor="middle" transform="translate(777.35 1630.15) scale(1 1.06)">3.907</text>
<text x="0" y="0" font-size="44.5" fill="#262626" text-anchor="middle" transform="translate(925.45 1372.9) scale(1 1.06)">0.5</text>
<text x="0" y="0" font-size="44.5" fill="#262626" text-anchor="middle" transform="translate(943.65 1590.5) scale(1 1.06)">0</text>
<text x="0" y="0" font-size="44.5" fill="#262626" text-anchor="middle" transform="translate(969.35 1630.15) scale(1 1.06)">3.8</text>
<text x="0" y="0" font-size="44.5" fill="#262626" text-anchor="middle" transform="translate(1129.1 1630.15) scale(1 1.06)">3.82</text>
<text x="0" y="0" font-size="44.5" fill="#262626" text-anchor="middle" transform="translate(1287.8 1630.15) scale(1 1.06)">3.84</text>
<text x="0" y="0" font-size="44.5" fill="#262626" text-anchor="middle" transform="translate(1447.8 1630.15) scale(1 1.06)">3.86</text>
<text x="0" y="0" font-size="50.5" fill="#262626" text-anchor="middle" transform="translate(499.95 1689.55)">r</text>
<text x="0" y="0" font-size="50.5" fill="#262626" text-anchor="middle" transform="translate(1247.8 1690.75)">r</text>
<text x="0" y="0" font-size="50.5" fill="#262626" text-anchor="middle" transform="translate(86 257.4) rotate(-90) scale(1 1.07)">TARDYS</text>
<text x="0" y="0" font-size="50.5" fill="#262626" text-anchor="middle" transform="translate(106.65 1113.3) rotate(-90) scale(1 1.07)">TARDYS</text>
<text x="0" y="0" font-size="50.5" fill="#262626" text-anchor="middle" transform="translate(115 616.65) rotate(-90)">λ</text>
<text x="0" y="0" font-size="50.5" fill="#262626" text-anchor="middle" transform="translate(133.45 1465.6) rotate(-90)">λ</text>
<text x="0" y="0" font-size="41" fill="#000" text-anchor="middle" transform="translate(46.7 57.45)">(a)</text>
<text x="0" y="0" font-size="41" fill="#000" text-anchor="middle" transform="translate(835.3 56.65)">(b)</text>
<text x="0" y="0" font-size="41" fill="#000" text-anchor="middle" transform="translate(49.3 541.35)">(c)</text>
<text x="0" y="0" font-size="41" fill="#000" text-anchor="middle" transform="translate(839.5 539.65)">(d)</text>
<text x="0" y="0" font-size="41" fill="#000" text-anchor="middle" transform="translate(54.6 901.25)">(e)</text>
<text x="0" y="0" font-size="41" fill="#000" text-anchor="middle" transform="translate(837.45 899.3)">(f)</text>
<text x="0" y="0" font-size="41" fill="#000" text-anchor="middle" transform="translate(58.1 1386.8)">(g)</text>
<text x="0" y="0" font-size="41" fill="#000" text-anchor="middle" transform="translate(848.2 1384)">(h)</text>
<text x="0" y="0" font-size="42" fill="#000" text-anchor="middle" transform="translate(1618.6 243.95) scale(1 1.05)">T</text>
<text x="0" y="0" font-size="30" fill="#000" text-anchor="middle" transform="translate(1640.35 263.65) scale(1.15 1.1)" style="font-family:'Liberation Serif', serif;font-style:italic;font-weight:bold;">α</text>
<text x="0" y="0" font-size="42" fill="#000" text-anchor="middle" transform="translate(1618.6 311.6) scale(1 1.05)">T</text>
<text x="0" y="0" font-size="32.5" fill="#000" text-anchor="middle" transform="translate(1640.15 328.2) scale(1.08 1)" style="font-family:'Liberation Serif', serif;font-style:italic;">β</text>
<text x="0" y="0" font-size="42" fill="#000" text-anchor="middle" transform="translate(1618.6 1089.65) scale(1 1.05)">T</text>
<text x="0" y="0" font-size="30" fill="#000" text-anchor="middle" transform="translate(1640.35 1108.6) scale(1.15 1.1)" style="font-family:'Liberation Serif', serif;font-style:italic;font-weight:bold;">α</text>
<text x="0" y="0" font-size="42" fill="#000" text-anchor="middle" transform="translate(1618.6 1156.55) scale(1 1.05)">T</text>
<text x="0" y="0" font-size="32.5" fill="#000" text-anchor="middle" transform="translate(1640.15 1174.15) scale(1.08 1)" style="font-family:'Liberation Serif', serif;font-style:italic;">β</text>
</svg>
</body></html>
